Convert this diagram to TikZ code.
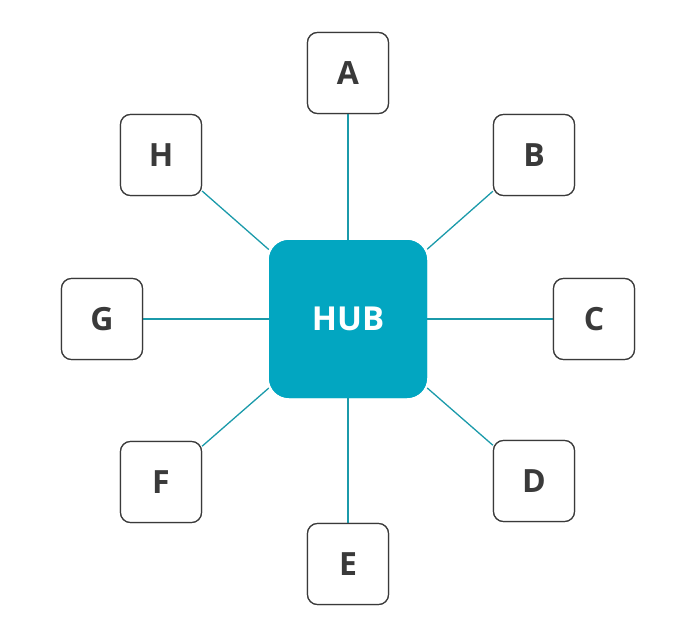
\documentclass[tikz,border=0pt]{standalone}
\usepackage{fontspec}
\setmainfont{Open Sans}
\definecolor{hubc}{HTML}{02A6C1}
\definecolor{linec}{HTML}{1B9AAA}
\definecolor{txt}{HTML}{3A3A3A}
\begin{document}
\begin{tikzpicture}[x=1pt,y=-1pt,
  leaf/.style={draw=txt,line width=1.2pt,fill=white,rounded corners=10pt,minimum size=81pt,inner sep=0pt,text=txt,font=\fontsize{32}{36}\selectfont\bfseries},
  hub/.style={fill=hubc,rounded corners=20pt,minimum size=158pt,inner sep=0pt,text=white,font=\fontsize{33}{38}\selectfont\bfseries},
  link/.style={draw=linec,line width=1.3pt}]
\useasboundingbox (0,0) rectangle (699,638);
\node[hub] (hub) at (348,319) {HUB};
\node[leaf] (A) at (348,73) {A};
\node[leaf] (B) at (534,155) {B};
\node[leaf] (C) at (594,319) {C};
\node[leaf] (D) at (534,481) {D};
\node[leaf] (E) at (348,564) {E};
\node[leaf] (F) at (161,482) {F};
\node[leaf] (G) at (102,319) {G};
\node[leaf] (H) at (161,155) {H};
\begin{scope}[on background layer/.style={}]
\end{scope}
\foreach \n in {A,B,C,D,E,F,G,H}{
  \path[link] (hub) -- (\n);
}
\node[hub] at (348,319) {HUB};
\foreach \n/\l in {A/A,B/B,C/C,D/D,E/E,F/F,G/G,H/H}{
  \node[leaf] at (\n) {\l};
}
\end{tikzpicture}
\end{document}
